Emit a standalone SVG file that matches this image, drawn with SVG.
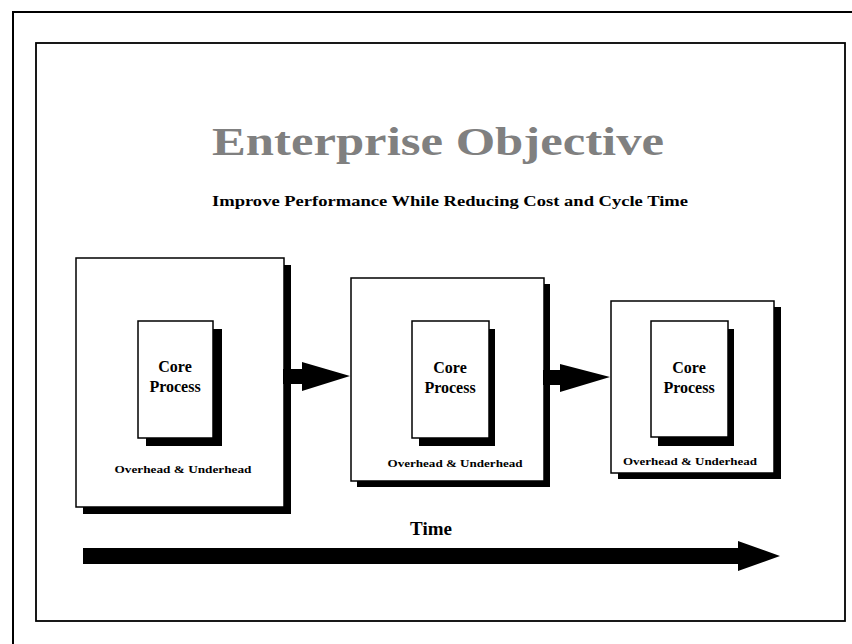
<svg xmlns="http://www.w3.org/2000/svg" width="852" height="644" viewBox="0 0 852 644">
<style>
.frame{fill:none;stroke:#000;stroke-width:2}
.box{fill:#fff;stroke:#000;stroke-width:1.5}
.shadow{fill:#000}
.t{font-family:"Liberation Serif","Times New Roman",serif;font-weight:bold;fill:#000;text-anchor:middle}
.core{font-size:16px}
.oh{font-size:11px}
</style>
<rect width="852" height="644" fill="#fff"/>
<path class="frame" d="M13 644 V12 H852"/>
<rect x="36" y="43" width="809" height="578" fill="#fff" stroke="#000" stroke-width="1.8"/>
<g id="title">
<text x="438" y="155" class="t" style="font-size:40px;fill:#808080" textLength="452" lengthAdjust="spacingAndGlyphs">Enterprise Objective</text>
</g>
<g id="subtitle">
<text x="450" y="206" class="t" style="font-size:14px" textLength="476" lengthAdjust="spacingAndGlyphs">Improve Performance While Reducing Cost and Cycle Time</text>
</g>
<g id="stage1">
<rect class="shadow" x="83" y="265" width="208" height="249"/>
<rect class="box" x="76" y="258" width="208" height="249"/>
<rect class="shadow" x="146" y="329" width="76" height="117"/>
<rect class="box" x="138" y="321" width="75" height="117"/>
<text x="175" y="372" class="t core">Core</text>
<text x="175" y="392" class="t core">Process</text>
<text x="183" y="473" class="t oh" textLength="137" lengthAdjust="spacingAndGlyphs">Overhead &amp; Underhead</text>
</g>
<g id="stage2">
<rect class="shadow" x="357" y="284" width="193" height="203"/>
<rect class="box" x="351" y="278" width="193" height="203"/>
<rect class="shadow" x="419" y="329" width="76" height="117"/>
<rect class="box" x="412" y="321" width="77" height="117"/>
<text x="450" y="373" class="t core">Core</text>
<text x="450" y="393" class="t core">Process</text>
<text x="455" y="467" class="t oh" textLength="135" lengthAdjust="spacingAndGlyphs">Overhead &amp; Underhead</text>
</g>
<g id="stage3">
<rect class="shadow" x="618" y="307" width="163" height="172"/>
<rect class="box" x="611" y="301" width="163" height="172"/>
<rect class="shadow" x="658" y="329" width="76" height="117"/>
<rect class="box" x="651" y="321" width="77" height="116"/>
<text x="689" y="373" class="t core">Core</text>
<text x="689" y="393" class="t core">Process</text>
<text x="690" y="465" class="t oh" textLength="134" lengthAdjust="spacingAndGlyphs">Overhead &amp; Underhead</text>
</g>
<g id="connectors">
<polygon class="shadow" points="283,369 302,369 302,362 350,376 302,391 302,384 283,384"/>
<polygon class="shadow" points="543,370 560,370 560,364 610,377 560,392 560,385 543,385"/>
<polygon class="shadow" points="83,548 738,548 738,541 780,556 738,571 738,564 83,564"/>
</g>
<g id="time">
<text x="431" y="535" class="t" style="font-size:19px">Time</text>
</g>
</svg>
